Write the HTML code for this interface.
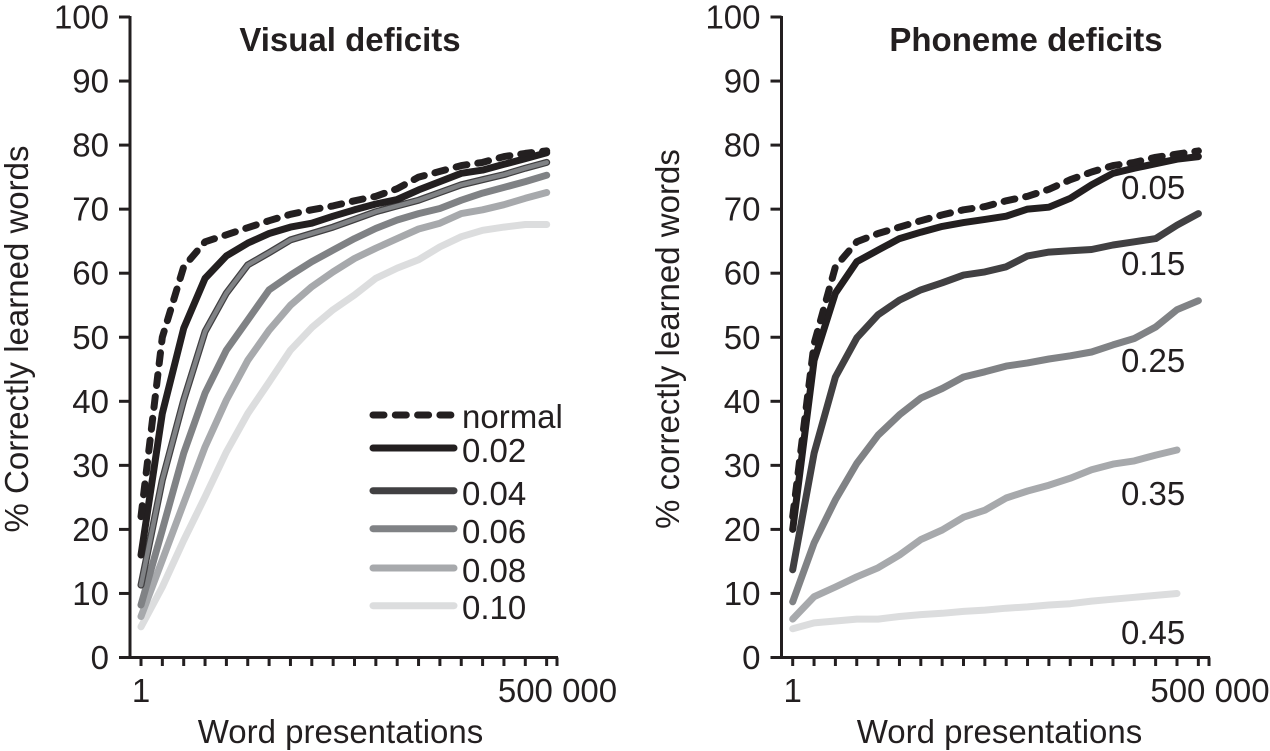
<!DOCTYPE html>
<html lang="en">
<head>
<meta charset="utf-8">
<title>Visual and phoneme deficits learning curves</title>
<style>
html,body{margin:0;padding:0;background:#fff;width:1270px;height:751px;overflow:hidden}
svg{display:block}
text{font-family:"Liberation Sans",sans-serif;fill:#231f20}
</style>
</head>
<body>
<svg id="fig" xmlns="http://www.w3.org/2000/svg" width="1270" height="751" viewBox="0 0 1270 751"></svg>
<script>
var yTicks = [0,10,20,30,40,50,60,70,80,90,100];
var xCategories = [0,1,2,3,4,5,6,7,8,9,10,11,12,13,14,15,16,17,18,19];

var visualNormal = [22,50,61,64.9,66,67.1,68.2,69.2,69.9,70.5,71.3,72,73.2,75,75.9,76.8,77.3,78.2,78.7,79.1];
var visual002 = [16,38.1,51.4,59.2,62.7,64.7,66.2,67.2,67.8,68.9,69.9,70.8,71.5,73,74.3,75.6,76.1,77,77.9,78.8];
var visual004 = [11.3,27.7,40.2,50.9,56.9,61.3,63.2,65.2,66.2,67.2,68.4,69.6,70.5,71.4,72.6,73.8,74.6,75.4,76.4,77.3];
var visual006 = [8.2,19.9,31.9,41.3,48,52.7,57.4,59.7,61.8,63.6,65.4,67,68.3,69.3,70.1,71.4,72.5,73.4,74.3,75.3];
var visual008 = [6.4,15.2,24.1,32.9,40.2,46.4,51.1,55,57.9,60.2,62.3,63.9,65.4,66.9,67.8,69.3,69.9,70.7,71.7,72.6];
var visual010 = [4.8,11,18.3,25.1,32.1,38.1,43,48,51.5,54.3,56.6,59.2,60.8,62.1,64.1,65.7,66.7,67.2,67.6,67.6];

var phonemeNormal = [22,49,61,64.9,66.2,67.2,68.2,69.1,69.9,70.4,71.3,72,73.1,74.6,75.8,76.8,77.3,78.1,78.6,79.1];
var phoneme005 = [20,46.4,56.9,61.8,63.6,65.4,66.4,67.3,67.9,68.4,68.9,70,70.3,71.7,73.8,75.6,76.4,77.1,77.8,78.2];
var phoneme015 = [13.7,31.9,43.8,49.9,53.5,55.8,57.4,58.5,59.7,60.2,61,62.7,63.3,63.5,63.7,64.4,64.9,65.4,67.5,69.3];
var phoneme025 = [8.7,17.9,24.6,30.3,34.7,37.9,40.5,42,43.8,44.6,45.5,46,46.6,47.1,47.7,48.8,49.8,51.6,54.3,55.7];
var phoneme035 = [6,9.5,11,12.6,14,16,18.4,19.9,21.9,23,24.9,26,26.9,28,29.3,30.2,30.7,31.6,32.4];
var phoneme045 = [4.5,5.4,5.7,6,6,6.4,6.7,6.9,7.2,7.4,7.7,7.9,8.2,8.4,8.8,9.1,9.4,9.7,10];

var INK = '#231f20', DARK = '#414042', MID = '#808285', LIGHT = '#a7a9ac', PALE = '#dcddde';
var svg = document.getElementById('fig');
var NS = 'http://www.w3.org/2000/svg';

function yScale(v){ return 657.5 - v * 6.405; }

function make(tag, attrs, name){
  var el = document.createElementNS(NS, tag);
  for (var k in attrs) el.setAttribute(k, attrs[k]);
  
  
  svg.appendChild(el);
  return el;
}
function label(x, y, str, size, anchor, name, bold, transform){
  var a = {x:x, y:y, 'font-size':size, 'text-anchor':anchor};
  if (bold) a['font-weight'] = 'bold';
  if (transform) a.transform = transform;
  var el = make('text', a, name);
  el.textContent = str;
  return el;
}
function drawAxes(cfg){
  make('line', {x1:cfg.axisX, y1:yScale(100)-1, x2:cfg.axisX, y2:yScale(0)+1.5, stroke:INK, 'stroke-width':3}, cfg.id + '-y-axis');
  make('line', {x1:cfg.axisX-11, y1:yScale(0), x2:cfg.xEnd, y2:yScale(0), stroke:INK, 'stroke-width':3}, cfg.id + '-x-axis');
  yTicks.forEach(function(t){
    make('line', {x1:cfg.axisX-11, y1:yScale(t), x2:cfg.axisX, y2:yScale(t), stroke:INK, 'stroke-width':3}, cfg.id + '-y-tick');
    label(cfg.axisX-21, yScale(t)+11.5, String(t), 33, 'end', cfg.id + '-y-tick-label');
  });
  xCategories.forEach(function(c){
    var x = cfg.xScale(c);
    make('line', {x1:x, y1:yScale(0), x2:x, y2:666, stroke:INK, 'stroke-width':3}, cfg.id + '-x-tick');
  });
  make('line', {x1:cfg.xEnd-1, y1:yScale(0), x2:cfg.xEnd-1, y2:666, stroke:INK, 'stroke-width':3}, cfg.id + '-x-tick-end');
  label(cfg.xScale(0), 702, '1', 33, 'middle', cfg.id + '-x-label-start');
  label(cfg.xEndLabel, 702, '500 000', 33, 'middle', cfg.id + '-x-label-end');
  label(cfg.xTitleX, 743, 'Word presentations', 33, 'middle', cfg.id + '-x-axis-title');
  label(0, 0, cfg.yTitle, 33, 'middle', cfg.id + '-y-axis-title', false, 'translate(' + cfg.yTitleX + ',339) rotate(-90)');
  label(cfg.titleX, 51, cfg.title, 33, 'middle', cfg.id + '-title', true);
}
function drawSeries(values, xScale, color, width, dashed, name){
  var pts = values.map(function(v, i){ return xScale(xCategories[i]).toFixed(1) + ',' + yScale(v).toFixed(1); }).join(' ');
  var a = {points:pts, fill:'none', stroke:color, 'stroke-width':width, 'stroke-linecap':'round', 'stroke-linejoin':'round'};
  if (dashed) a['stroke-dasharray'] = '11 11';
  return make('polyline', a, name);
}

var leftX = function(c){ return 141 + c * 21.35; };
var rightX = function(c){ return 792.7 + c * 21.35; };

drawAxes({id:'visual', axisX:130, xEnd:558, xEndLabel:557.5, xScale:leftX, xTitleX:340.5, yTitle:'% Correctly learned words', yTitleX:28, title:'Visual deficits', titleX:350});
drawAxes({id:'phoneme', axisX:781.5, xEnd:1210, xEndLabel:1210, xScale:rightX, xTitleX:999.5, yTitle:'% correctly learned words', yTitleX:679, title:'Phoneme deficits', titleX:1026});

drawSeries(visual010, leftX, PALE, 7, false, 'visual-line-0.10');
drawSeries(visual008, leftX, LIGHT, 7, false, 'visual-line-0.08');
drawSeries(visual006, leftX, MID, 7, false, 'visual-line-0.06');
drawSeries(visual004, leftX, DARK, 7, false, 'visual-line-0.04');
drawSeries(visual004, leftX, MID, 4.5, false, 'visual-line-0.04-core');
drawSeries(visual002, leftX, INK, 7, false, 'visual-line-0.02');
drawSeries(visualNormal, leftX, INK, 7, true, 'visual-line-normal');

drawSeries(phoneme045, rightX, PALE, 7, false, 'phoneme-line-0.45');
drawSeries(phoneme035, rightX, LIGHT, 7, false, 'phoneme-line-0.35');
drawSeries(phoneme025, rightX, MID, 7, false, 'phoneme-line-0.25');
drawSeries(phoneme015, rightX, DARK, 7, false, 'phoneme-line-0.15');
drawSeries(phoneme005, rightX, INK, 7, false, 'phoneme-line-0.05');
drawSeries(phonemeNormal, rightX, INK, 7, true, 'phoneme-line-normal');

var legendLabels = ['normal','0.02','0.04','0.06','0.08','0.10'];
var legendColors = [INK, INK, DARK, MID, LIGHT, PALE];
var legendLineY = [415, 448, 490.7, 528.7, 568, 605.7];
var legendTextY = [428, 462, 505, 543, 582, 619];
legendLabels.forEach(function(l, i){
  var a = {x1:373, y1:legendLineY[i], x2:454, y2:legendLineY[i], stroke:legendColors[i], 'stroke-width':7, 'stroke-linecap':'round'};
  if (i === 0) a['stroke-dasharray'] = '11 11.3';
  make('line', a, 'legend-line-' + l);
  label(462, legendTextY[i], l, 33, 'start', 'legend-label-' + l);
});

var phonemeLabels = ['0.05','0.15','0.25','0.35','0.45'];
var phonemeLabelY = [199, 275, 372, 505, 644];
phonemeLabels.forEach(function(l, i){
  label(1121, phonemeLabelY[i], l, 33, 'start', 'phoneme-series-label-' + l);
});
</script>
</body>
</html>
